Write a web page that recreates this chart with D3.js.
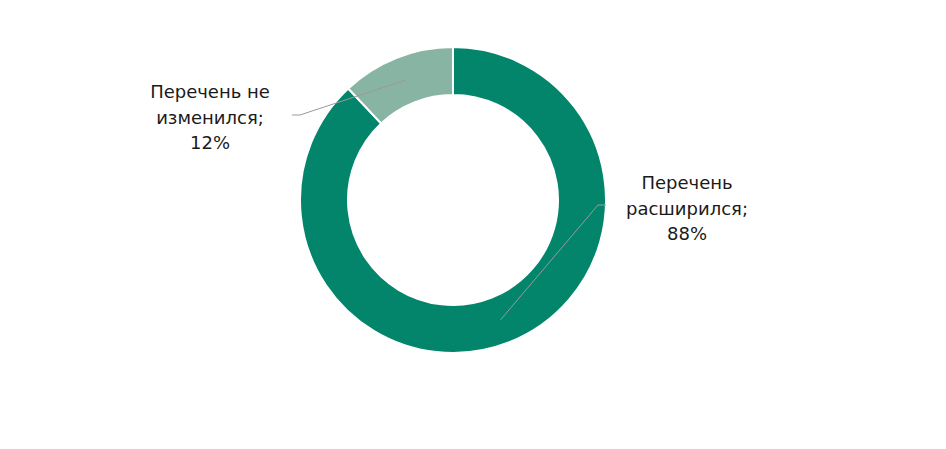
<!DOCTYPE html>
<html><head><meta charset="utf-8">
<script src="https://cdn.jsdelivr.net/npm/d3@7/dist/d3.min.js"></script>
<style>body{margin:0;background:#fff}svg{display:block}</style>
</head><body>
<svg id="c" width="946" height="449"></svg>
<script>
const categories = ["Перечень расширился", "Перечень не изменился"];
const values = [88, 12];
const colors = ["#02856A", "#88B5A3"];
const labelLines = [["Перечень", "расширился;", "88%"], ["Перечень не", "изменился;", "12%"]];

const svg = d3.select("#c");
const cx = 453, cy = 200, rOut = 153, rIn = 105;
const g = svg.append("g").attr("transform", `translate(${cx},${cy})`);
const pie = d3.pie().sort(null).value(d => d)(values);
const arc = d3.arc().innerRadius(rIn).outerRadius(rOut);
g.selectAll("path.s").data(pie).enter().append("path")
  .attr("d", arc).attr("fill", (d, i) => colors[i])
  .attr("stroke", "#fff").attr("stroke-width", 2);

// label layout (relative to center)
const labelPos = [{x: 234, y: -11, lx: 153, ly: 5, hx: 145}, {x: -243, y: -102, lx: -161, ly: -85, hx: -153}];
const midArc = d3.arc().innerRadius(129).outerRadius(129);
pie.forEach((d, i) => {
  const p = midArc.centroid(d);
  const L = labelPos[i];
  g.append("polyline").attr("points", [[p[0], p[1]], [L.hx, L.ly], [L.lx, L.ly]].map(q => q.join(",")).join(" "))
    .attr("fill", "none").attr("stroke", "#9a9a9a").attr("stroke-width", 1);
  const t = g.append("text").attr("text-anchor", "middle")
    .attr("font-family", "'DejaVu Sans', sans-serif").attr("font-size", 18).attr("fill", "#1a1a1a");
  labelLines[i].forEach((s, k) => {
    t.append("tspan").attr("x", L.x).attr("y", L.y + k * 25.5).text(s);
  });
});
</script>
</body></html>
